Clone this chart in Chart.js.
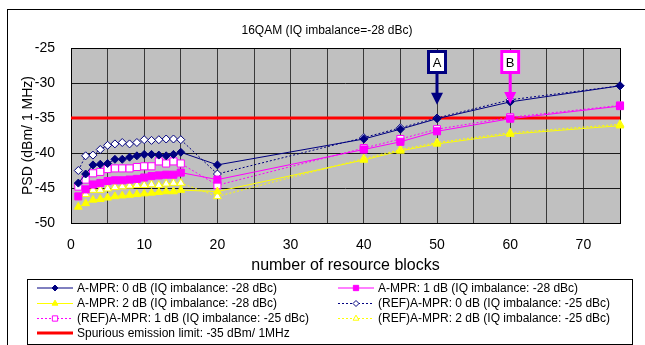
<!DOCTYPE html>
<html>
<head>
<meta charset="utf-8">
<script src="https://cdn.jsdelivr.net/npm/chart.js@4.4.1/dist/chart.umd.min.js"></script>
<style>
  html, body { margin: 0; padding: 0; background: #fff; }
  #chart-canvas { display: block; }
</style>
</head>
<body>
<canvas id="chart-canvas" width="645" height="345"></canvas>
<script>
// number of resource blocks (x positions of the measured points)
const resourceBlocks = [1, 2, 3, 4, 5, 6, 7, 8, 9, 10, 11, 12, 13, 14, 15, 20, 40, 45, 50, 60, 75];

// PSD values in dBm/1MHz
const ampr0 = [-44.3, -43.0, -41.7, -41.6, -41.5, -40.9, -40.9, -40.6, -40.4, -40.2, -40.2, -40.3, -40.4, -40.2, -39.9, -41.7, -38.0, -36.6, -35.1, -32.7, -30.4];
const ampr1 = [-46.2, -45.2, -44.5, -44.3, -44.0, -43.9, -43.9, -43.8, -43.7, -43.5, -43.3, -43.2, -43.1, -43.1, -42.8, -43.8, -39.5, -38.4, -36.9, -35.1, -33.3];
const ampr2 = [-47.7, -47.2, -46.7, -46.6, -46.4, -46.2, -46.1, -46.0, -45.9, -45.8, -45.7, -45.6, -45.5, -45.5, -45.3, -45.5, -41.0, -39.7, -38.7, -37.3, -36.1];
const refAmpr0 = [-42.5, -40.4, -40.3, -39.5, -38.9, -38.7, -38.5, -38.7, -38.5, -38.1, -38.2, -38.1, -38.0, -38.0, -38.1, -43.0, -37.8, -36.4, -35.0, -32.4, -30.4];
const refAmpr1 = [-44.8, -43.8, -42.9, -42.7, -42.3, -42.2, -42.2, -42.2, -42.0, -41.9, -41.9, -41.2, -41.5, -41.2, -41.5, -44.6, -39.3, -38.0, -36.6, -34.9, -33.2];
const refAmpr2 = [-46.3, -45.9, -45.3, -45.3, -45.1, -44.9, -44.8, -44.7, -44.6, -44.6, -44.5, -44.6, -44.4, -44.3, -44.3, -46.2, -40.8, -39.5, -38.5, -37.1, -35.9];

// spurious emission limit
const limitX = [0, 75];
const limitY = [-35, -35];

// axis tick labels
const xTickLabels = [0, 10, 20, 30, 40, 50, 60, 70];
const yTickLabels = [-50, -45, -40, -35, -30, -25];

// callouts A and B: x position and where the arrow points
const calloutLabels = ['A', 'B'];
const calloutX = [50, 60];
const calloutTip = [-33.1, -33.0];
const calloutColors = ['#000080', '#FF00FF'];

const NAVY = '#000080', MAGENTA = '#FF00FF', YELLOW = '#FFFF00', RED = '#FF0000';
const FONT = '"Liberation Sans", Arial, sans-serif';

function makeSeries(label, ys, color, pointStyle, radius, isRef) {
  return {
    label: label,
    data: resourceBlocks.map((x, i) => ({ x: x, y: ys[i] })),
    borderColor: color,
    backgroundColor: isRef ? '#FFFFFF' : color,
    pointBackgroundColor: isRef ? '#FFFFFF' : color,
    pointBorderColor: color,
    pointBorderWidth: 1,
    borderWidth: 1,
    borderDash: isRef ? [2, 2] : [],
    pointStyle: pointStyle,
    pointRadius: radius,
    tension: 0,
    clip: false,
    order: 1
  };
}

const datasets = [
  makeSeries('A-MPR: 0 dB (IQ imbalance: -28 dBc)', ampr0, NAVY, 'rectRot', 4, false),
  makeSeries('A-MPR: 1 dB (IQ imbalance: -28 dBc)', ampr1, MAGENTA, 'rect', 5, false),
  makeSeries('A-MPR: 2 dB (IQ imbalance: -28 dBc)', ampr2, YELLOW, 'triangle', 4.5, false),
  makeSeries('(REF)A-MPR: 0 dB (IQ imbalance: -25 dBc)', refAmpr0, NAVY, 'rectRot', 4, true),
  makeSeries('(REF)A-MPR: 1 dB (IQ imbalance: -25 dBc)', refAmpr1, MAGENTA, 'rect', 5, true),
  makeSeries('(REF)A-MPR: 2 dB (IQ imbalance: -25 dBc)', refAmpr2, YELLOW, 'triangle', 4.5, true),
  {
    label: 'Spurious emission limit: -35 dBm/ 1MHz',
    data: limitX.map((x, i) => ({ x: x, y: limitY[i] })),
    borderColor: RED,
    backgroundColor: RED,
    borderWidth: 3,
    pointRadius: 0,
    order: 10
  }
];

// grey plot area, outer frame, heading and plot border
const backdrop = {
  id: 'backdrop',
  beforeDraw(chart) {
    const { ctx, chartArea: a } = chart;
    ctx.save();
    ctx.fillStyle = '#C0C0C0';
    ctx.fillRect(a.left, a.top, a.right - a.left, a.bottom - a.top);
    ctx.strokeStyle = '#000';
    ctx.lineWidth = 1;
    ctx.strokeRect(7.5, 9.5, 700, 400);
    ctx.fillStyle = '#000';
    ctx.font = '12px ' + FONT;
    ctx.textAlign = 'center';
    ctx.textBaseline = 'middle';
    ctx.fillText('16QAM (IQ imbalance=-28 dBc)', 327, 31);
    ctx.restore();
  },
  beforeDatasetsDraw(chart) {
    const { ctx, chartArea: a } = chart;
    ctx.save();
    ctx.strokeStyle = '#000';
    ctx.lineWidth = 1;
    ctx.strokeRect(Math.round(a.left) + 0.5, Math.round(a.top) + 0.5,
      Math.round(a.right - a.left), Math.round(a.bottom - a.top));
    ctx.restore();
  }
};

// boxed letters with arrows
const callouts = {
  id: 'callouts',
  afterDatasetsDraw(chart) {
    const { ctx, scales: { x, y }, chartArea: a } = chart;
    ctx.save();
    calloutLabels.forEach((txt, i) => {
      const px = x.getPixelForValue(calloutX[i]);
      const tip = y.getPixelForValue(calloutTip[i]);
      const col = calloutColors[i];
      const w = 20, h = 24, top = a.top + 2;
      // shaft
      ctx.fillStyle = col;
      ctx.fillRect(px - 1.5, top + h, 3, tip - 11 - (top + h));
      // head
      ctx.beginPath();
      ctx.moveTo(px - 6, tip - 12);
      ctx.lineTo(px + 6, tip - 12);
      ctx.lineTo(px, tip);
      ctx.closePath();
      ctx.fill();
      // box
      ctx.fillStyle = '#fff';
      ctx.fillRect(px - w / 2, top, w, h);
      ctx.strokeStyle = col;
      ctx.lineWidth = 3;
      ctx.strokeRect(px - w / 2 + 1.5, top + 1.5, w - 3, h - 3);
      ctx.fillStyle = '#000';
      ctx.font = '13px ' + FONT;
      ctx.textAlign = 'center';
      ctx.textBaseline = 'middle';
      ctx.fillText(txt, px, top + h / 2 + 1);
    });
    ctx.restore();
  }
};

// boxed two column legend with line + marker samples
const boxLegend = {
  id: 'boxLegend',
  afterDraw(chart) {
    const { ctx } = chart;
    ctx.save();
    ctx.strokeStyle = '#000';
    ctx.lineWidth = 1;
    ctx.fillStyle = '#fff';
    ctx.fillRect(27.5, 279.5, 605, 65);
    ctx.strokeRect(27.5, 279.5, 605, 65);
    const colX = [37, 338];
    const rowY = [288, 303.5, 318.5, 333];
    chart.data.datasets.forEach((ds, i) => {
      const x0 = colX[i % 2];
      const yy = rowY[Math.floor(i / 2)];
      ctx.save();
      ctx.strokeStyle = ds.borderColor;
      ctx.lineWidth = ds.borderWidth;
      ctx.setLineDash(ds.borderDash || []);
      ctx.beginPath();
      ctx.moveTo(x0, yy);
      ctx.lineTo(x0 + 36, yy);
      ctx.stroke();
      ctx.restore();
      if (ds.pointRadius > 0) {
        ctx.save();
        ctx.fillStyle = ds.pointBackgroundColor;
        ctx.strokeStyle = ds.pointBorderColor;
        ctx.lineWidth = 1;
        Chart.helpers.drawPoint(ctx, {
          pointStyle: ds.pointStyle,
          radius: ds.pointRadius * 0.75,
          rotation: 0,
          borderWidth: 1
        }, x0 + 18, yy);
        ctx.restore();
      }
      ctx.fillStyle = '#000';
      ctx.font = '12px ' + FONT;
      ctx.textAlign = 'left';
      ctx.textBaseline = 'middle';
      ctx.fillText(ds.label, x0 + 40, yy + 0.5);
    });
    ctx.restore();
  }
};

const ctx = document.getElementById('chart-canvas').getContext('2d');
const chart = new Chart(ctx, {
  type: 'line',
  data: { datasets: datasets },
  options: {
    responsive: false,
    animation: false,
    events: [],
    layout: { padding: { left: 0, right: 25, top: 48, bottom: 70 } },
    plugins: {
      legend: { display: false },
      title: { display: false },
      tooltip: { enabled: false }
    },
    scales: {
      x: {
        type: 'linear',
        min: 0,
        max: 75,
        afterFit: (s) => { s.height = 52; },
        grid: { color: '#3a3a3a', drawTicks: false },
        border: { display: false },
        ticks: {
          stepSize: 5,
          padding: 14,
          color: '#000',
          font: { family: FONT, size: 14 },
          maxRotation: 0,
          autoSkip: false,
          callback: (v) => xTickLabels.includes(v) ? String(v) : ''
        },
        title: {
          display: true,
          text: 'number of resource blocks',
          color: '#000',
          font: { family: FONT, size: 16 },
          padding: { top: 0, bottom: 0 }
        }
      },
      y: {
        min: -50,
        max: -25,
        afterFit: (s) => { s.width = 71; },
        grid: { color: '#1a1a1a', drawTicks: false },
        border: { display: false },
        ticks: {
          stepSize: 5,
          padding: 16,
          color: '#000',
          font: { family: FONT, size: 14 },
          callback: (v) => yTickLabels.includes(v) ? String(v) : ''
        },
        title: {
          display: true,
          text: 'PSD (dBm/ 1 MHz)',
          color: '#000',
          font: { family: FONT, size: 14 },
          padding: { top: 20, bottom: 0 }
        }
      }
    }
  },
  plugins: [backdrop, callouts, boxLegend]
});
</script>
</body>
</html>
